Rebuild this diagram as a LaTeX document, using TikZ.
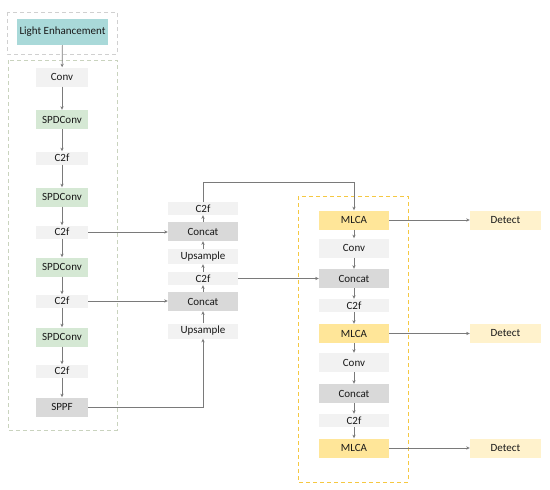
\documentclass[tikz,border=0pt]{standalone}
\usepackage{fontspec}
\setmainfont{Carlito}
\usetikzlibrary{arrows.meta}
\definecolor{teal1}{HTML}{A9D9D9}
\definecolor{green1}{HTML}{D5E8D4}
\definecolor{gray1}{HTML}{F2F2F2}
\definecolor{gray2}{HTML}{D9D9D9}
\definecolor{gold1}{HTML}{FFE699}
\definecolor{gold2}{HTML}{FFF2CC}
\definecolor{linec}{HTML}{7A7A7A}
\definecolor{dashg}{HTML}{D0D0D0}
\definecolor{dashgreen}{HTML}{C9D3BE}
\definecolor{dashy}{HTML}{F5C842}
\begin{document}
\begin{tikzpicture}[x=1pt,y=-1pt,
  blk/.style={inner sep=0pt, font=\fontsize{11}{13}\selectfont, text=black!90},
  lconv/.style={blk, fill=gray1, minimum width=52pt, minimum height=19pt},
  lspd/.style={blk, fill=green1, minimum width=52pt, minimum height=19pt},
  lc2f/.style={blk, fill=gray1, minimum width=52pt, minimum height=13pt},
  lsppf/.style={blk, fill=gray2, minimum width=52pt, minimum height=19pt},
  mc2f/.style={blk, fill=gray1, minimum width=70pt, minimum height=13pt},
  mcat/.style={blk, fill=gray2, minimum width=70pt, minimum height=19pt},
  mup/.style={blk, fill=gray1, minimum width=70pt, minimum height=15pt},
  rconv/.style={blk, fill=gray1, minimum width=70pt, minimum height=19pt},
  rmlca/.style={blk, fill=gold1, minimum width=70pt, minimum height=19pt},
  rdet/.style={blk, fill=gold2, minimum width=71pt, minimum height=19pt},
  conn/.style={draw=linec, line width=0.7pt, -{Stealth[length=3.6pt,width=3.2pt]}},
  dbox/.style={dashed, dash pattern=on 4pt off 3pt, line width=0.7pt}
]
\useasboundingbox (0,0) rectangle (550,490);
% dashed frames
\draw[dbox, draw=dashg] (7,12) rectangle (117,54);
\draw[dbox, draw=dashgreen] (8,60) rectangle (117,430);
\draw[dbox, draw=dashy] (298,196) rectangle (408,482);
% left column
\node[blk, fill=teal1, minimum width=91pt, minimum height=26pt] (le) at (62.5,32) {Light Enhancement};
\node[lconv] (l1) at (62,77) {Conv};
\node[lspd] (l2) at (62,119.5) {SPDConv};
\node[lc2f] (l3) at (62,158) {C2f};
\node[lspd] (l4) at (62,197) {SPDConv};
\node[lc2f] (l5) at (62,232) {C2f};
\node[lspd] (l6) at (62,267) {SPDConv};
\node[lc2f] (l7) at (62,301) {C2f};
\node[lspd] (l8) at (62,337) {SPDConv};
\node[lc2f] (l9) at (62,371) {C2f};
\node[lsppf] (l10) at (62,407) {SPPF};
% middle column
\node[mc2f] (m1) at (203,208.5) {C2f};
\node[mcat] (m2) at (203,231.5) {Concat};
\node[mup] (m3) at (203,256.5) {Upsample};
\node[mc2f] (m4) at (203,278.5) {C2f};
\node[mcat] (m5) at (203,301.5) {Concat};
\node[mup] (m6) at (203,331) {Upsample};
% right column
\node[rmlca] (r1) at (354,220) {MLCA};
\node[rconv] (r2) at (354,248) {Conv};
\node[mcat] (r3) at (354,278.5) {Concat};
\node[mc2f] (r4) at (354,305.5) {C2f};
\node[rmlca] (r5) at (354,333.5) {MLCA};
\node[rconv] (r6) at (354,362.5) {Conv};
\node[mcat] (r7) at (354,393.5) {Concat};
\node[mc2f] (r8) at (354,420.5) {C2f};
\node[rmlca] (r9) at (354,448) {MLCA};
% detect
\node[rdet] (d1) at (505.5,220) {Detect};
\node[rdet] (d2) at (505.5,333.5) {Detect};
\node[rdet] (d3) at (505.5,448) {Detect};
\coordinate (turn) at (203,182);
% connectors left
\foreach \a/\b in {le/l1,l1/l2,l2/l3,l3/l4,l4/l5,l5/l6,l6/l7,l7/l8,l8/l9,l9/l10}
  \draw[conn] (\a) -- (\b);
\draw[conn] (l5.east) -- (l5.east -| m2.west);
\draw[conn] (l7.east) -- (l7.east -| m5.west);
\draw[conn] (l10.east) -| (m6.south);
% middle upward
\foreach \a/\b in {m6/m5,m5/m4,m4/m3,m3/m2,m2/m1}
  \draw[conn] (\a) -- (\b);
\draw[conn] (m1.north) -- (turn) -| (r1.north);
\draw[conn] (m4.east) -- (m4.east -| r3.west);
% right column
\foreach \a/\b in {r1/r2,r2/r3,r3/r4,r4/r5,r5/r6,r6/r7,r7/r8,r8/r9}
  \draw[conn] (\a) -- (\b);
\draw[conn] (r1) -- (d1);
\draw[conn] (r5) -- (d2);
\draw[conn] (r9) -- (d3);
\end{tikzpicture}
\end{document}
